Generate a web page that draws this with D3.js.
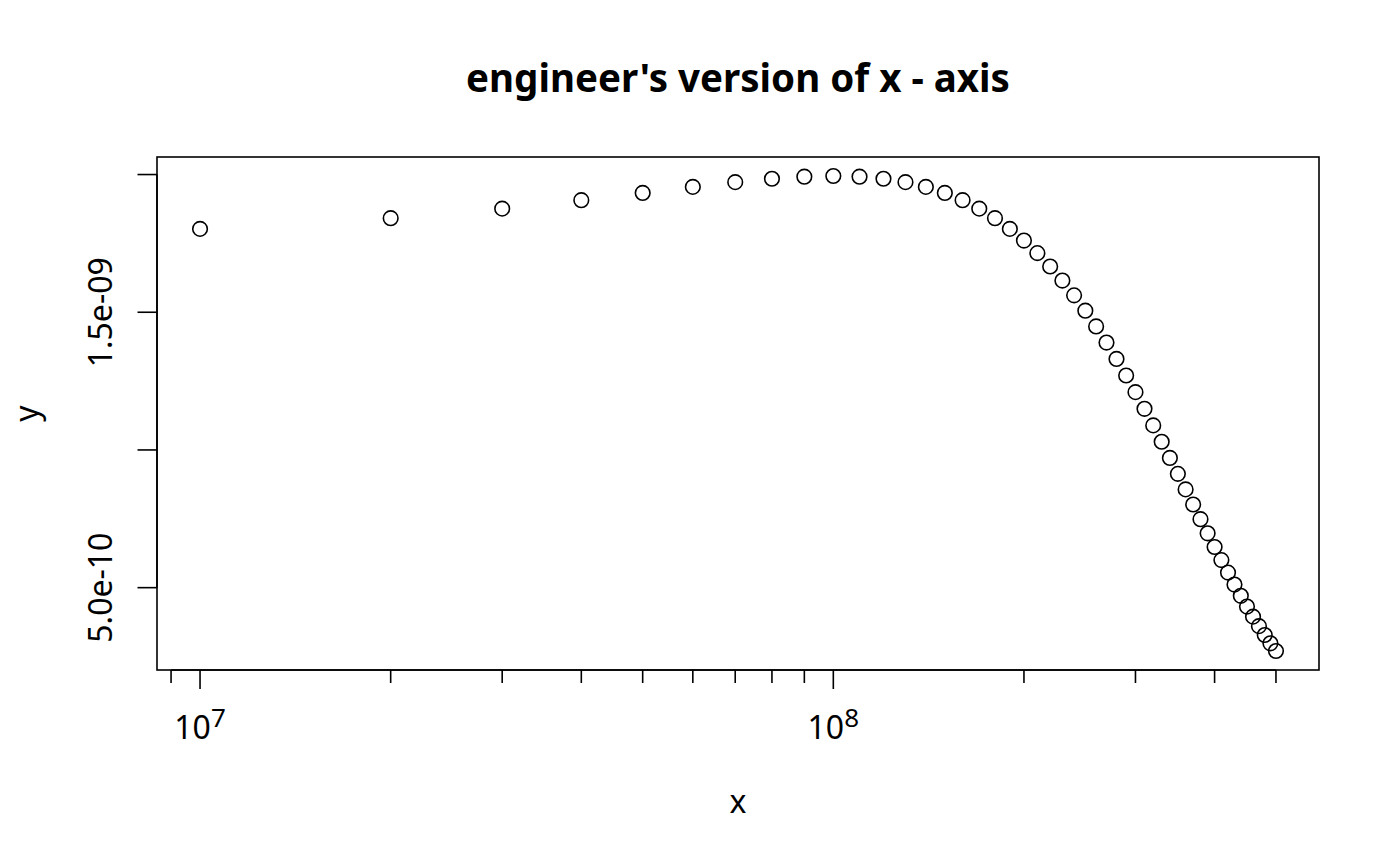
<!DOCTYPE html>
<html>
<head>
<meta charset="utf-8">
<script src="https://cdn.jsdelivr.net/npm/d3@7"></script>
<style>
  html, body { margin: 0; padding: 0; background: #fff; }
  svg { display: block; }
  text { font-family: "Noto Sans", "Open Sans", sans-serif; fill: #000; }
</style>
</head>
<body>
<svg id="chart" width="1400" height="866"></svg>
<script>
// ---- data ----
const xValues = [1e7,2e7,3e7,4e7,5e7,6e7,7e7,8e7,9e7,1e8,
                 1.1e8,1.2e8,1.3e8,1.4e8,1.5e8,1.6e8,1.7e8,1.8e8,1.9e8,2e8,
                 2.1e8,2.2e8,2.3e8,2.4e8,2.5e8,2.6e8,2.7e8,2.8e8,2.9e8,3e8,
                 3.1e8,3.2e8,3.3e8,3.4e8,3.5e8,3.6e8,3.7e8,3.8e8,3.9e8,4e8,
                 4.1e8,4.2e8,4.3e8,4.4e8,4.5e8,4.6e8,4.7e8,4.8e8,4.9e8,5e8];
const yValues = [1.8027e-9,1.8414e-9,1.8762e-9,1.9069e-9,1.9333e-9,1.9552e-9,1.9724e-9,1.9848e-9,1.9922e-9,1.9947e-9,
                 1.9922e-9,1.9848e-9,1.9724e-9,1.9552e-9,1.9333e-9,1.9069e-9,1.8762e-9,1.8414e-9,1.8027e-9,1.7603e-9,
                 1.7147e-9,1.6661e-9,1.6149e-9,1.5613e-9,1.5057e-9,1.4485e-9,1.3899e-9,1.3304e-9,1.2703e-9,1.2099e-9,
                 1.1494e-9,1.0892e-9,1.0297e-9,0.9709e-9,0.9132e-9,0.8568e-9,0.8019e-9,0.7486e-9,0.6972e-9,0.6476e-9,
                 0.6000e-9,0.5546e-9,0.5113e-9,0.4703e-9,0.4314e-9,0.3948e-9,0.3603e-9,0.3281e-9,0.2980e-9,0.2700e-9];
const xMajorTicks = [1e7, 1e8];
const xMajorLabels = [["10","7"], ["10","8"]];
const xMinorTicks = [9e6, 2e7,3e7,4e7,5e7,6e7,7e7,8e7,9e7, 2e8,3e8,4e8,5e8];
const yTicks = [2.0e-9, 1.5e-9, 1.0e-9, 5.0e-10];
const yTickLabels = [null, "1.5e-09", null, "5.0e-10"];
const titleText = "engineer's version of x - axis";
const xLabel = "x";
const yLabel = "y";

// ---- layout ----
const plot = {left: 157, right: 1319, top: 157, bottom: 670};
const svg = d3.select("#chart");

// R-style 4% extension of data range
const lx = d3.extent(xValues).map(Math.log10);
const dlx = (lx[1] - lx[0]) * 0.04;
const x = d3.scaleLog()
  .domain([Math.pow(10, lx[0] - dlx), Math.pow(10, lx[1] + dlx)])
  .range([plot.left, plot.right]);

const ye = d3.extent(yValues);
const dy = (ye[1] - ye[0]) * 0.04;
const y = d3.scaleLinear()
  .domain([ye[0] - dy, ye[1] + dy])
  .range([plot.bottom, plot.top]);

const lw = 1.6;
const fs = 32;

// box
svg.append("rect")
  .attr("x", plot.left).attr("y", plot.top)
  .attr("width", plot.right - plot.left).attr("height", plot.bottom - plot.top)
  .attr("fill", "none").attr("stroke", "#000").attr("stroke-width", lw);

// x axis
const gx = svg.append("g").attr("transform", `translate(0,${plot.bottom})`);
gx.selectAll("line.major").data(xMajorTicks).join("line")
  .attr("class", "major")
  .attr("x1", d => x(d)).attr("x2", d => x(d))
  .attr("y1", 0).attr("y2", 19)
  .attr("stroke", "#000").attr("stroke-width", lw);
gx.selectAll("line.minor").data(xMinorTicks).join("line")
  .attr("class", "minor")
  .attr("x1", d => x(d)).attr("x2", d => x(d))
  .attr("y1", 0).attr("y2", 13)
  .attr("stroke", "#000").attr("stroke-width", lw);
gx.append("line")
  .attr("x1", x(d3.min(xMinorTicks))).attr("x2", x(d3.max(xMinorTicks)))
  .attr("y1", 0).attr("y2", 0)
  .attr("stroke", "#000").attr("stroke-width", lw);

const labs = gx.selectAll("text.xl").data(xMajorTicks).join("text")
  .attr("class", "xl")
  .attr("x", d => x(d)).attr("y", 69)
  .attr("text-anchor", "middle")
  .style("font-size", fs + "px");
labs.append("tspan").text((d, i) => xMajorLabels[i][0]);
labs.append("tspan").attr("dy", -12).style("font-size", "26px").text((d, i) => xMajorLabels[i][1]);

// y axis
const gy = svg.append("g").attr("transform", `translate(${plot.left},0)`);
gy.append("line")
  .attr("x1", 0).attr("x2", 0)
  .attr("y1", y(d3.max(yTicks))).attr("y2", y(d3.min(yTicks)))
  .attr("stroke", "#000").attr("stroke-width", lw);
gy.selectAll("line.yt").data(yTicks).join("line")
  .attr("class", "yt")
  .attr("x1", 0).attr("x2", -19.5)
  .attr("y1", d => y(d)).attr("y2", d => y(d))
  .attr("stroke", "#000").attr("stroke-width", lw);
gy.selectAll("text.yl").data(yTicks.filter((d, i) => yTickLabels[i] !== null)).join("text")
  .attr("class", "yl")
  .attr("transform", d => `translate(-45,${y(d)}) rotate(-90)`)
  .attr("text-anchor", "middle")
  .style("font-size", fs + "px")
  .text(d => yTickLabels[yTicks.indexOf(d)]);

// points
svg.append("g").selectAll("circle").data(xValues).join("circle")
  .attr("cx", d => x(d))
  .attr("cy", (d, i) => y(yValues[i]))
  .attr("r", 7.3)
  .attr("fill", "none").attr("stroke", "#000").attr("stroke-width", lw);

// title & axis labels
svg.append("text")
  .attr("x", (plot.left + plot.right) / 2).attr("y", 92)
  .attr("text-anchor", "middle")
  .style("font-size", "38.5px").style("font-weight", "bold")
  .text(titleText);
svg.append("text")
  .attr("x", (plot.left + plot.right) / 2).attr("y", 813)
  .attr("text-anchor", "middle")
  .style("font-size", fs + "px")
  .text(xLabel);
svg.append("text")
  .attr("transform", `translate(38,${(plot.top + plot.bottom) / 2}) rotate(-90)`)
  .attr("text-anchor", "middle")
  .style("font-size", fs + "px")
  .text(yLabel);
</script>
</body>
</html>
